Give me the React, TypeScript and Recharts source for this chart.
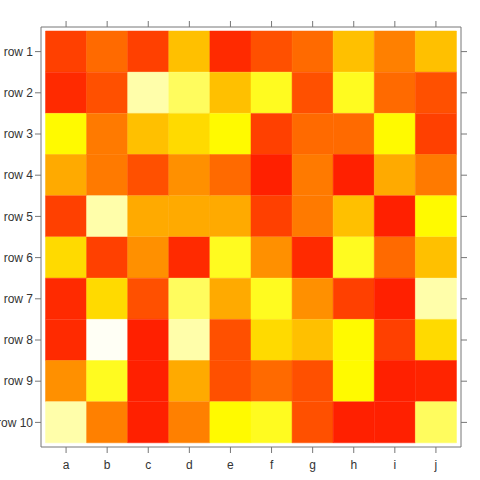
import { BarChart, Bar, XAxis, YAxis, Cell } from 'recharts';

const columns = ['a', 'b', 'c', 'd', 'e', 'f', 'g', 'h', 'i', 'j'];
const rows = ['row 1', 'row 2', 'row 3', 'row 4', 'row 5', 'row 6', 'row 7', 'row 8', 'row 9', 'row 10'];

// heat level of each cell (0 = red, ~250 = yellow, ~500 = white)
const levels = [
    [64, 106, 64, 192, 42, 80, 106, 192, 128, 192],
    [42, 80, 420, 344, 192, 282, 80, 282, 106, 80],
    [250, 122, 192, 218, 250, 64, 106, 106, 250, 64],
    [170, 122, 80, 144, 106, 32, 122, 32, 170, 122],
    [64, 420, 170, 170, 170, 64, 122, 192, 32, 250],
    [218, 64, 144, 42, 282, 144, 42, 282, 106, 192],
    [42, 218, 80, 344, 170, 282, 144, 64, 32, 420],
    [42, 495, 32, 420, 80, 218, 192, 250, 64, 218],
    [144, 282, 32, 170, 80, 106, 80, 250, 32, 36],
    [420, 128, 32, 128, 250, 282, 80, 32, 32, 344],
];

const columnTicks = [0.5, 1.5, 2.5, 3.5, 4.5, 5.5, 6.5, 7.5, 8.5, 9.5];

// red -> yellow -> pale, like heat.colors
const heat = (v: number) => {
    const g = v <= 250 ? v : Math.min(255, 250 + (v - 250) / 48);
    const b = Math.max(0, v - 250);
    return `rgb(255, ${Math.round(g)}, ${Math.round(b)})`;
};

const data = rows.map((row) => {
    const entry: Record<string, string | number> = { row };
    columns.forEach((c) => (entry[c] = 1));
    return entry;
});

const AXIS = '#777777';
const FONT = 'Liberation Sans, Arial, sans-serif';
const TEXT = { fontSize: 12, fill: '#333333', fontFamily: FONT };

// plain text tick so "row 10" is not wrapped
const RowTick = ({ x, y, payload }: { x?: number; y?: number; payload?: { value: string } }) => (
    <text x={x} y={y} dy="0.35em" textAnchor="end" fontSize={12} fill="#333333" fontFamily={FONT}>
        {payload?.value}
    </text>
);

export default function App() {
    return (
        <div style={{ position: 'absolute', left: 0, top: 0, width: 480, height: 480, background: '#fff' }}>
            <BarChart
                width={480}
                height={480}
                data={data}
                layout="vertical"
                margin={{ top: 0, right: 0, bottom: 0, left: 0 }}
                barCategoryGap={0}
                barGap={0}
            >
                <XAxis
                    xAxisId="bottom"
                    type="number"
                    domain={[-0.11, 10.11]}
                    ticks={columnTicks}
                    tickFormatter={(v: number) => columns[Math.floor(v)]}
                    height={33}
                    tickSize={6}
                    tickMargin={7}
                    stroke={AXIS}
                    tick={TEXT}
                    axisLine={{ stroke: AXIS }}
                    tickLine={{ stroke: AXIS }}
                    allowDataOverflow
                />
                <XAxis
                    xAxisId="top"
                    orientation="top"
                    type="number"
                    domain={[-0.11, 10.11]}
                    ticks={columnTicks}
                    tickFormatter={() => ''}
                    height={27}
                    tickSize={6}
                    stroke={AXIS}
                    axisLine={{ stroke: AXIS }}
                    tickLine={{ stroke: AXIS }}
                    allowDataOverflow
                />
                <YAxis
                    yAxisId="left"
                    type="category"
                    dataKey="row"
                    width={41}
                    padding={{ top: 4, bottom: 4 }}
                    tickSize={6}
                    tickMargin={2}
                    tick={<RowTick />}
                    stroke={AXIS}
                    axisLine={{ stroke: AXIS }}
                    tickLine={{ stroke: AXIS }}
                />
                <YAxis
                    yAxisId="right"
                    orientation="right"
                    type="category"
                    dataKey="row"
                    width={19}
                    padding={{ top: 4, bottom: 4 }}
                    tickSize={6}
                    tickFormatter={() => ''}
                    stroke={AXIS}
                    axisLine={{ stroke: AXIS }}
                    tickLine={{ stroke: AXIS }}
                />
                {columns.map((c, ci) => (
                    <Bar
                        key={c}
                        dataKey={c}
                        stackId="cells"
                        xAxisId="bottom"
                        yAxisId="left"
                        isAnimationActive={false}
                    >
                        {rows.map((r, ri) => (
                            <Cell key={r} fill={heat(levels[ri][ci])} stroke={heat(levels[ri][ci])} strokeWidth={0.5} />
                        ))}
                    </Bar>
                ))}
            </BarChart>
        </div>
    );
}
